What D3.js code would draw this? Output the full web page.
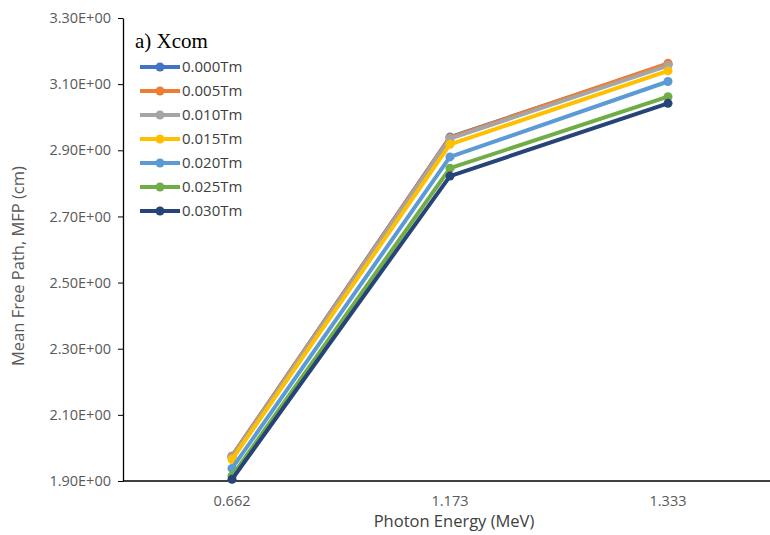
<!DOCTYPE html>
<html>
<head>
<meta charset="utf-8">
<script src="https://d3js.org/d3.v7.min.js"></script>
<style>
  html, body { margin: 0; padding: 0; background: #fff; overflow: hidden; }
  #chart { width: 770px; height: 535px; }
</style>
</head>
<body>
<div id="chart"></div>
<script>
// photon energies (categories)
var energies = ["0.662", "1.173", "1.333"];
var seriesNames = ["0.000Tm", "0.005Tm", "0.010Tm", "0.015Tm", "0.020Tm", "0.025Tm", "0.030Tm"];
var seriesColors = ["#4472C4", "#ED7D31", "#A5A5A5", "#FFC000", "#5B9BD5", "#70AD47", "#264478"];
// MFP values (cm), one array per Tm content
var mfp000 = [1.975, 2.940, 3.160];
var mfp005 = [1.975, 2.938, 3.163];
var mfp010 = [1.972, 2.935, 3.156];
var mfp015 = [1.965, 2.918, 3.140];
var mfp020 = [1.938, 2.880, 3.108];
var mfp025 = [1.915, 2.846, 3.062];
var mfp030 = [1.905, 2.822, 3.042];
var yTicks = [1.9, 2.1, 2.3, 2.5, 2.7, 2.9, 3.1, 3.3];

var allSeries = [mfp000, mfp005, mfp010, mfp015, mfp020, mfp025, mfp030];

var width = 770, height = 535;
var margin = { left: 123, top: 18, bottom: 54 };

var svg = d3.select("#chart").append("svg")
    .attr("width", width).attr("height", height);

var x = d3.scaleBand()
    .domain(energies)
    .range([margin.left, margin.left + 3 * 218]);

var y = d3.scaleLinear()
    .domain([1.9, 3.3])
    .range([height - margin.bottom, margin.top]);

var font = "'Open Sans', sans-serif";

// y axis
var yAxis = svg.append("g")
    .attr("transform", "translate(" + margin.left + ",0)")
    .call(d3.axisLeft(y).tickValues(yTicks).tickSize(5).tickSizeOuter(0)
        .tickFormat(function (d) { return d.toFixed(2) + "E+00"; }));
yAxis.select(".domain").attr("stroke", "#000").attr("stroke-width", 1.3);
yAxis.selectAll(".tick line").attr("stroke", "#000");
yAxis.selectAll(".tick text")
    .attr("x", -12)
    .attr("fill", "#595959")
    .style("font-family", font)
    .style("font-size", "14.5px");

// x axis
var xAxisG = svg.append("g")
    .attr("transform", "translate(0," + y(1.9) + ")");
xAxisG.append("line")
    .attr("x1", margin.left).attr("x2", width)
    .attr("stroke", "#000").attr("stroke-width", 1.3);
xAxisG.selectAll("text")
    .data(energies)
    .enter().append("text")
    .attr("x", function (d) { return x(d) + x.bandwidth() / 2; })
    .attr("y", 25)
    .attr("text-anchor", "middle")
    .attr("fill", "#595959")
    .style("font-family", font)
    .style("font-size", "14.5px")
    .text(function (d) { return d; });

// axis titles
svg.append("text")
    .attr("transform", "translate(24," + (y(2.55)) + ")rotate(-90)")
    .attr("text-anchor", "middle")
    .attr("fill", "#595959")
    .style("font-family", font)
    .style("font-size", "16.5px")
    .text("Mean Free Path, MFP (cm)");

svg.append("text")
    .attr("x", x("1.173") + x.bandwidth() / 2 + 4)
    .attr("y", 527)
    .attr("text-anchor", "middle")
    .attr("fill", "#404040")
    .style("font-family", font)
    .style("font-size", "16.5px")
    .text("Photon Energy (MeV)");

// lines and markers
var line = d3.line()
    .x(function (d, i) { return x(energies[i]) + x.bandwidth() / 2; })
    .y(function (d) { return y(d); });

allSeries.forEach(function (vals, k) {
    var g = svg.append("g");
    g.append("path")
        .datum(vals)
        .attr("d", line)
        .attr("fill", "none")
        .attr("stroke", seriesColors[k])
        .attr("stroke-width", 4)
        .attr("stroke-linejoin", "round");
    g.selectAll("circle")
        .data(vals)
        .enter().append("circle")
        .attr("cx", function (d, i) { return x(energies[i]) + x.bandwidth() / 2; })
        .attr("cy", function (d) { return y(d); })
        .attr("r", 4.5)
        .attr("fill", seriesColors[k]);
});

// legend
svg.append("text")
    .attr("x", 135)
    .attr("y", 48)
    .style("font-family", "'Liberation Serif', 'Times New Roman', serif")
    .style("font-size", "21px")
    .attr("fill", "#000")
    .text("a) Xcom");

var legend = svg.append("g")
    .selectAll("g")
    .data(seriesNames)
    .enter().append("g")
    .attr("transform", function (d, i) { return "translate(140," + (67 + i * 24) + ")"; });

legend.append("line")
    .attr("x1", 0).attr("x2", 40)
    .attr("stroke", function (d, i) { return seriesColors[i]; })
    .attr("stroke-width", 4);
legend.append("circle")
    .attr("cx", 20).attr("r", 4.5)
    .attr("fill", function (d, i) { return seriesColors[i]; });
legend.append("text")
    .attr("x", 42)
    .attr("dy", "0.35em")
    .attr("fill", "#404040")
    .style("font-family", font)
    .style("font-size", "15px")
    .text(function (d) { return d; });
</script>
</body>
</html>
